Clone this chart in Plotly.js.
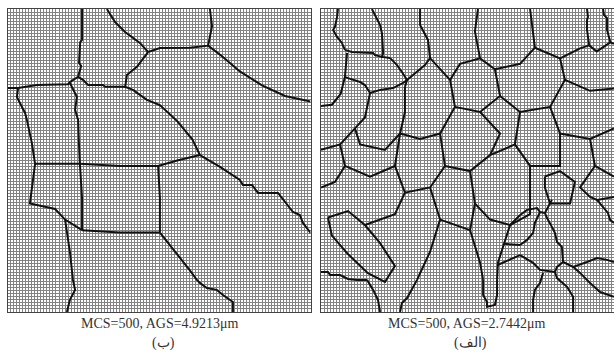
<!DOCTYPE html>
<html>
<head>
<meta charset="utf-8">
<script src="https://cdn.plot.ly/plotly-3.0.1.min.js"></script>
<style>html,body{margin:0;padding:0;background:#fff;}#chart{width:614px;height:353px;}</style>
</head>
<body>
<div id="chart"></div>
<script>
// Lattice cells per side
var gridCells = 100;

// Grain boundaries, left panel (ب), lattice units (x right, y down)
var leftBoundaries = [
  [[24.6,0],[24.6,10.2],[24,10.9],[23.6,17.8],[24.3,18.8],[23.3,22.4]],
  [[23.3,22.4],[24.9,23.4],[26.6,25.1],[31.5,25.1],[32.2,25.7],[38.8,25.7],[41.4,26.7],[46,30],[50.3,31.7],[56,37],[61,43],[63.5,48.2]],
  [[23.3,22.4],[20.6,24.1],[20,24.8],[9.7,25.1],[3.5,26.1],[0,26.1]],
  [[20.6,24.4],[21.3,25.7],[22.9,29],[22.3,33.3],[23.3,36.6],[23.6,45],[23.9,51.1]],
  [[3.5,26.1],[3.1,29],[4.1,31],[5.8,34.3],[6.4,36.6],[8,44],[9.1,51.1]],
  [[32.8,0],[35.5,4.3],[38.8,7.6],[43.7,11.2],[46.4,14.2]],
  [[46.4,14.2],[50.3,12.9],[60.2,12.8],[66.2,12.1],[67.5,5.7],[66.8,0]],
  [[66.2,12.1],[70.8,15.6],[76.7,20.6],[84,25.2],[91.6,28.7],[100,30.5]],
  [[46.4,14.2],[42.7,19.1],[39.4,21.8],[38.8,26]],
  [[9.1,51.1],[23.9,51.1],[37.1,51.8],[49.7,51.8],[56,50],[63.5,48.2]],
  [[23.9,51.1],[24.6,62.4],[24.6,73]],
  [[49.7,51.8],[50.3,62.4],[50.3,73.8]],
  [[24.6,73],[37.1,73.8],[50.3,73.8]],
  [[9.1,51.1],[8.1,58.9],[7.4,64.2],[15.7,66],[19,69.5],[24.6,73]],
  [[19,69.5],[20.6,80.2],[21.6,89.4],[22.3,92.7],[20.6,96],[19.6,100]],
  [[50.3,73.8],[55.3,80],[60,86],[62.5,89.4],[63.5,90.4],[65.8,92.1],[69.1,92.7],[71.1,94.4],[73.4,96],[74.4,96.7],[74.4,100]],
  [[63.5,48.2],[70,52],[76.7,56.4],[77.7,58.1],[80.7,58.1],[82.7,60.7],[89.3,60.7],[90.6,62.4],[92.2,64.7],[94.2,67],[96.5,68],[97.5,70.6],[99.8,73.6],[100,73.9]]
];

// Grain boundaries, right panel (الف)
var rightBoundaries = [
  [[5.6,0],[5.3,2.6],[4.6,5.9],[4,6.9],[5.3,9.2],[6.9,11.2],[7.9,13.5]],
  [[7.9,13.5],[10.2,14.2],[17.2,14.5],[17.8,15.2],[20.1,15.8],[22.8,16.2]],
  [[16.8,0],[18.5,3.6],[19.5,5.3],[20.1,7.9],[20.5,14.5],[20.1,16.2]],
  [[22.8,16.2],[25.1,18.5],[26.7,20.8],[28.4,23.4],[27.7,25.7]],
  [[8.6,14.5],[8.3,19.1],[7.9,22.4],[8.9,22.8],[12.9,24.1],[14.5,25.1],[16.2,27.7]],
  [[16.2,27.7],[19.5,26.7],[23.8,26.1],[27.1,24.4],[28.4,23.4],[31.7,20.8],[34.3,18.5],[36,16.2]],
  [[36,16.2],[35.3,10.2],[32.7,5.3],[32.7,0]],
  [[0,32],[3.6,31.6],[6.5,28],[7.9,22.4]],
  [[16.2,27.7],[14.5,35.8],[11.2,39.4],[12.9,44.7],[21.1,46.5],[26.1,41.1],[27.7,34],[27.7,25.7]],
  [[0,46.5],[6.3,44.7],[11.2,39.4]],
  [[6.3,44.7],[7.9,51.8],[4.6,57.1],[0,58.9]],
  [[7.9,51.8],[16.2,55.3],[24.4,51.8],[26.1,41.1]],
  [[36,16.2],[42.6,23.4],[44.2,32.3],[39.3,41.1],[32.7,42.9],[26.1,41.1]],
  [[44.2,32.3],[52.5,34],[59.1,28.7],[57.4,19.9],[52.5,16.3],[45.9,18.1],[42.6,23.4]],
  [[52.5,16.3],[50.8,7.4],[51.8,0]],
  [[57.4,19.9],[65.7,18.1],[70.6,12.8],[69,0]],
  [[70.6,12.8],[78.9,16.3],[85.5,13],[88.5,12]],
  [[87.8,0],[88.1,2.6],[87.8,3.6],[87.8,6.9],[88.5,12]],
  [[93.1,0],[93.4,2],[94.4,3],[94.4,6.9],[95.5,11],[96.7,11.5]],
  [[88.5,12],[91,14],[95.5,11]],
  [[59.1,28.7],[65.7,34],[75.6,32.3],[80.5,23.4],[78.9,16.3]],
  [[80.5,23.4],[88.8,27],[96.7,26.2]],
  [[75.6,32.3],[78.9,41.1],[88.8,42.9],[96.7,39.4]],
  [[65.7,34],[64,44.7],[69,51.8],[78.9,51.8],[78.9,41.1]],
  [[73.9,55.3],[78.9,53.5],[83.8,57.1],[82.2,64.2],[75.6,64.2],[73.9,58.9],[73.9,55.3]],
  [[88.8,42.9],[90.4,51.8],[96.7,55.3]],
  [[90.4,51.8],[85.5,58.9],[88.8,62],[91.1,63],[96.7,62]],
  [[39.3,41.1],[40.9,51.8],[36,58.9],[27.7,60.6],[24.4,51.8]],
  [[40.9,51.8],[49.2,53.5],[55.8,48.2],[59.1,41.1],[52.5,34]],
  [[55.8,48.2],[64,44.7]],
  [[49.2,53.5],[50.8,64.2],[55.8,69.5],[62.4,71.3],[65.7,68]],
  [[62.4,71.3],[69,67.7],[69,51.8]],
  [[36,58.9],[39.3,69.5],[49.2,73],[50.8,64.2]],
  [[27.7,60.6],[24.4,67.7],[14.5,71.3]],
  [[39.3,69.5],[36,80.1],[32.7,87.2],[31.7,89.4]],
  [[49.2,73],[52.5,83.7],[53.5,89.4]],
  [[62.4,71.3],[58.4,83.7],[58.1,89.4]],
  [[60.3,77.5],[65.7,77.9]],
  [[58.3,84.5],[65.7,81.2]],
  [[0,86.8],[2.3,86.8],[3,87.8],[6.3,87.8],[8.9,89.1],[11.9,89.4],[15.2,89.4]],
  [[15.2,89.4],[17.2,92.7],[18.8,96],[19.5,100]],
  [[31.7,89.4],[30,92.7],[28.4,95.4],[26.7,97],[26.1,100]],
  [[53.5,89.4],[53.5,94.4],[54.8,96.7],[54.8,98.3],[57.4,97.7],[58.1,94.4],[58.1,89.4]],
  [[2.3,68.8],[8.9,66.7],[14.5,71.3],[19.5,77.3],[24.4,84.8],[21.1,90.1],[15.5,87.2],[8.9,80.9],[3.6,74.8],[2.3,68.8]],
  [[65.7,68],[68,66.3],[71.3,65.7],[72.3,67],[73.9,67.3]],
  [[73.9,67.3],[74.9,65.3],[76.2,63],[75.6,64.2]],
  [[73.9,67.3],[74.6,69],[76.2,71.9],[77.2,73.9],[77.9,76.9],[79.5,78.5],[79.9,83.5]],
  [[72.3,67],[70.6,70.6],[70,73.9],[68,76.2],[65.7,77.9]],
  [[65.7,81.2],[66.7,81.8],[70,83.8],[72.3,86.1],[76.6,86.8],[77.2,86.8]],
  [[77.2,86.8],[77.9,85.1],[79.9,83.5]],
  [[79.9,83.5],[83.2,85.1],[87.8,83.5],[91.1,82.2],[94.4,82.8],[96.7,83.5]],
  [[91.1,63],[93.1,65.3],[94.7,67.3],[95.4,69.6],[96.7,70.6]],
  [[77.2,86.8],[77.9,88.8],[81.2,91.7],[83.2,95],[83.2,100]],
  [[73.3,87.1],[72.3,90.4],[70.6,92.7],[70,96],[70,100]],
  [[83.2,85.1],[85.5,87.1],[88.8,90.4],[92.1,93.4],[96.7,95]]
];

var captions = ["MCS=500, AGS=4.9213\u03bcm", "MCS=500, AGS=2.7442\u03bcm"];
var labels = ["(\u0628)", "(\u0627\u0644\u0641)"];

function toTraces(list, xa, ya) {
  return list.map(function (seg) {
    return {
      x: seg.map(function (p) { return p[0]; }),
      y: seg.map(function (p) { return p[1]; }),
      xaxis: xa, yaxis: ya,
      type: 'scatter', mode: 'lines',
      line: {color: '#111', width: 2},
      hoverinfo: 'skip', showlegend: false
    };
  });
}

var traces = toTraces(leftBoundaries, 'x', 'y').concat(toTraces(rightBoundaries, 'x2', 'y2'));

var W = 614, H = 353;
var cellPx = 3.03;
var leftX0 = 7.5, rightX0 = 321, topY = 9, botY = 312;

function axisCommon() {
  return {
    showgrid: true, gridcolor: '#838383', gridwidth: 1,
    dtick: 1, tick0: 0, zeroline: false,
    showticklabels: false, ticks: '',
    showline: true, linecolor: '#444', linewidth: 1,
    fixedrange: true
  };
}

var xa = axisCommon(); xa.domain = [leftX0 / W, (leftX0 + gridCells * cellPx) / W]; xa.range = [0, gridCells]; xa.mirror = true; xa.anchor = 'y';
var ya = axisCommon(); ya.domain = [1 - botY / H, 1 - topY / H]; ya.range = [gridCells, 0]; ya.mirror = true; ya.anchor = 'x';
var xa2 = axisCommon(); xa2.domain = [rightX0 / W, 1]; xa2.range = [0, (W - rightX0) / cellPx]; xa2.mirror = true; xa2.anchor = 'y2';
var ya2 = axisCommon(); ya2.domain = [1 - botY / H, 1 - topY / H]; ya2.range = [gridCells, 0]; ya2.mirror = false; ya2.anchor = 'x2';

var fontSerif = 'Liberation Serif, Times New Roman, serif';
var annotations = [
  {text: captions[0], x: 160 / W, y: 1 - 323 / H},
  {text: labels[0], x: 163 / W, y: 1 - 343 / H},
  {text: captions[1], x: 467 / W, y: 1 - 323 / H},
  {text: labels[1], x: 470 / W, y: 1 - 343 / H}
].map(function (a) {
  return {text: a.text, x: a.x, y: a.y, xref: 'paper', yref: 'paper',
    xanchor: 'center', yanchor: 'middle', showarrow: false,
    font: {family: fontSerif, size: 14, color: '#333'}};
});

var layout = {
  width: W, height: H,
  margin: {l: 0, r: 0, t: 0, b: 0},
  paper_bgcolor: '#fff', plot_bgcolor: '#fff',
  xaxis: xa, yaxis: ya, xaxis2: xa2, yaxis2: ya2,
  annotations: annotations,
  showlegend: false
};

Plotly.newPlot('chart', traces, layout, {staticPlot: true, displayModeBar: false});
</script>
</body>
</html>
